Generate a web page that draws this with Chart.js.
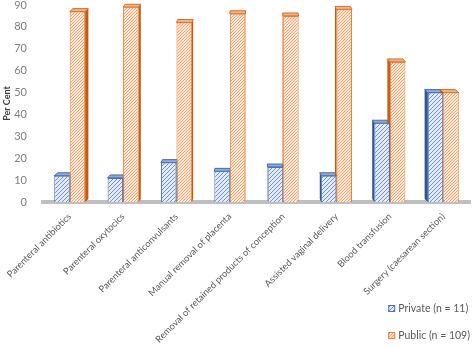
<!DOCTYPE html>
<html>
<head>
<meta charset="utf-8">
<script src="https://cdn.jsdelivr.net/npm/chart.js@4/dist/chart.umd.min.js"></script>
<style>
	html, body { margin: 0; padding: 0; background: #fff; }
	#wrap { width: 472px; height: 347px; }
</style>
</head>
<body>
<div id="wrap"><canvas id="chart"></canvas></div>
<script>
var FONT = 'Lato, "Open Sans", sans-serif';

var categories = [
	'Parenteral antibiotics',
	'Parenteral oxytocics',
	'Parenteral anticonvulsants',
	'Manual removal of placenta',
	'Removal of retained products of conception',
	'Assisted vaginal delivery',
	'Blood transfusion',
	'Surgery (caesarean section)'
];
var privateValues = [12, 11, 18, 14, 16, 12, 36, 50];
var publicValues = [87, 89, 82, 86, 85, 88, 64, 50];
var seriesLabels = ['Private (n = 11)', 'Public (n = 109)'];
var yTicks = [0, 10, 20, 30, 40, 50, 60, 70, 80, 90];

function makeHatch(bg, line, step) {
	var c = document.createElement('canvas');
	c.width = step;
	c.height = step;
	var g = c.getContext('2d');
	g.fillStyle = bg;
	g.fillRect(0, 0, step, step);
	g.strokeStyle = line;
	g.lineWidth = 1;
	g.beginPath();
	for (var k = -step; k <= step; k += step) {
		g.moveTo(k, step);
		g.lineTo(k + step, 0);
	}
	g.stroke();
	return g.createPattern(c, 'repeat');
}

var ctx = document.getElementById('chart').getContext('2d');
var bluePattern = makeHatch('#e4ebf7', '#6f93d2', 4);
var orangePattern = makeHatch('#fde8d9', '#f4a46f', 3);

var sideColors = ['#2f5597', '#c55a11'];
var topColors = ['#8ea9db', '#f4b183'];

// fake 3d columns: side face turns towards the middle of the plot, top face slanting back
var depthPlugin = {
	id: 'depth',
	beforeDatasetsDraw: function(chart) {
		var c = chart.ctx;
		var area = chart.chartArea;
		var mid = (area.left + area.right) / 2;
		var dy = -3;
		c.save();
		chart.data.datasets.forEach(function(ds, i) {
			chart.getDatasetMeta(i).data.forEach(function(bar) {
				var left = bar.x - bar.width / 2;
				var right = bar.x + bar.width / 2;
				var dx = (mid - bar.x) * 0.018;
				var edge = dx > 0 ? right : left;
				c.fillStyle = sideColors[i];
				c.beginPath();
				c.moveTo(edge, bar.base);
				c.lineTo(edge, bar.y);
				c.lineTo(edge + dx, bar.y + dy);
				c.lineTo(edge + dx, bar.base + dy);
				c.closePath();
				c.fill();
				c.fillStyle = topColors[i];
				c.strokeStyle = sideColors[i];
				c.lineWidth = 0.8;
				c.beginPath();
				c.moveTo(left, bar.y);
				c.lineTo(right, bar.y);
				c.lineTo(right + dx, bar.y + dy);
				c.lineTo(left + dx, bar.y + dy);
				c.closePath();
				c.fill();
				c.stroke();
			});
		});
		c.restore();
	},
	afterDraw: function(chart) {
		var c = chart.ctx;
		var fills = [bluePattern, orangePattern];
		var borders = ['#4472c4', '#ed7d31'];
		var ys = [309, 336];
		c.save();
		c.font = '10.5px ' + FONT;
		c.textBaseline = 'middle';
		var w = Math.max.apply(null, seriesLabels.map(function(s) { return c.measureText(s).width; }));
		var x = chart.width - 2 - w - 10;
		seriesLabels.forEach(function(label, i) {
			c.fillStyle = fills[i];
			c.fillRect(x, ys[i] - 4, 7, 7);
			c.strokeStyle = borders[i];
			c.lineWidth = 1;
			c.strokeRect(x + 0.5, ys[i] - 3.5, 6, 6);
			c.fillStyle = '#595959';
			c.fillText(label, x + 10, ys[i]);
		});
		c.restore();
	}
};

new Chart(ctx, {
	type: 'bar',
	data: {
		labels: categories,
		datasets: [
			{
				label: seriesLabels[0],
				data: privateValues,
				backgroundColor: bluePattern,
				borderColor: '#4472c4',
				borderWidth: 1
			},
			{
				label: seriesLabels[1],
				data: publicValues,
				backgroundColor: orangePattern,
				borderColor: '#ed7d31',
				borderWidth: 1
			}
		]
	},
	options: {
		responsive: true,
		maintainAspectRatio: false,
		animation: false,
		layout: { padding: { top: 5, right: 2, left: 2, bottom: 0 } },
		datasets: {
			bar: { barPercentage: 1, categoryPercentage: 0.58 }
		},
		plugins: {
			legend: { display: false },
			tooltip: { enabled: false }
		},
		scales: {
			x: {
				grid: { display: false },
				border: { display: true, color: '#bfbfbf', width: 4 },
				afterFit: function(scale) {
					scale.paddingLeft = 0;
					scale.paddingRight = 0;
					scale.height = 145;
				},
				ticks: {
					color: '#595959',
					font: { family: FONT, size: 9.3 },
					minRotation: 45,
					maxRotation: 45,
					padding: 1,
					autoSkip: false
				}
			},
			y: {
				min: 0,
				max: 90,
				afterBuildTicks: function(scale) {
					scale.ticks = yTicks.map(function(v) { return { value: v }; });
				},
				afterFit: function(scale) {
					scale.width = 41;
					scale.paddingTop = 0;
					scale.paddingBottom = 0;
				},
				grid: { display: false },
				border: { display: false },
				title: {
					display: true,
					text: 'Per Cent',
					color: '#404040',
					font: { family: FONT, size: 9, weight: 'bold' },
					padding: { top: 0, bottom: 6 }
				},
				ticks: {
					color: '#7f7f7f',
					font: { family: FONT, size: 11 },
					padding: 8
				}
			}
		}
	},
	plugins: [depthPlugin]
});
</script>
</body>
</html>
